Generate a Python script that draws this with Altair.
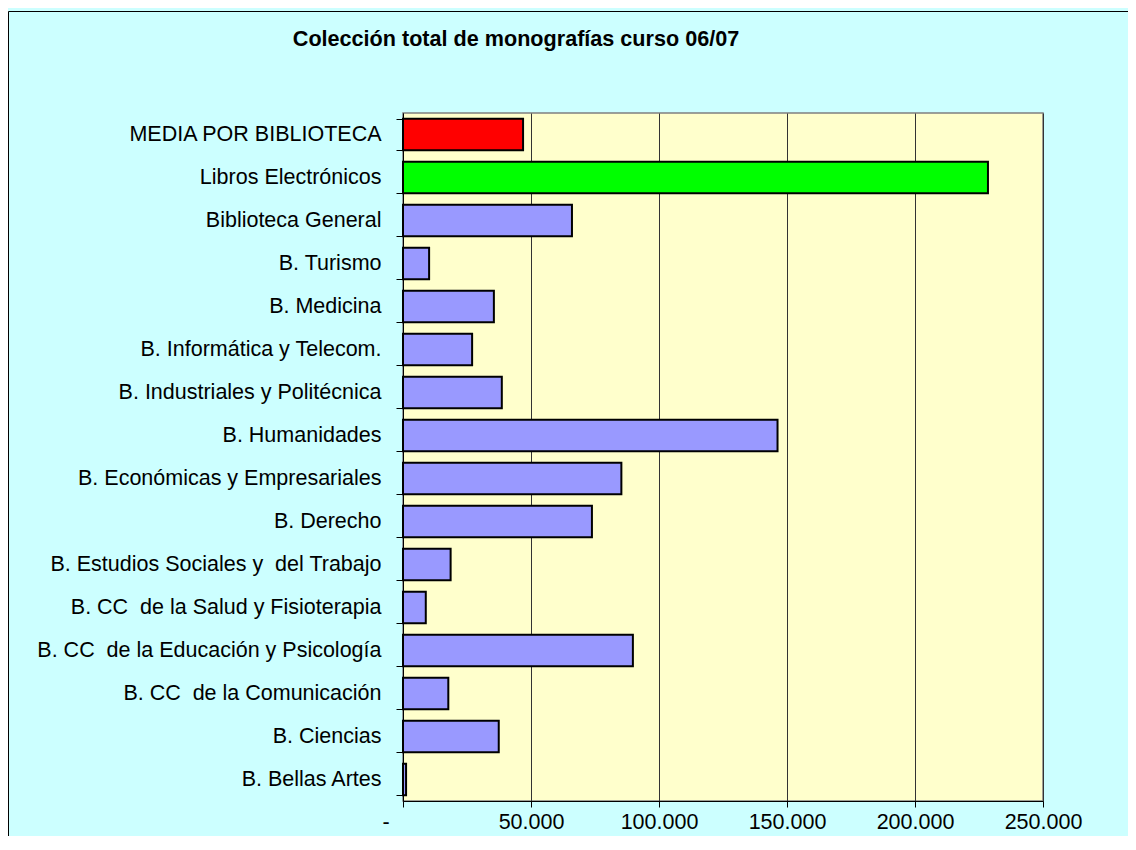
import altair as alt
import pandas as pd

categories = [
    "MEDIA POR BIBLIOTECA",
    "Libros Electrónicos",
    "Biblioteca General",
    "B. Turismo",
    "B. Medicina",
    "B. Informática y Telecom.",
    "B. Industriales y Politécnica",
    "B. Humanidades",
    "B. Económicas y Empresariales",
    "B. Derecho",
    "B. Estudios Sociales y\u00a0 del Trabajo",
    "B. CC\u00a0 de la Salud y Fisioterapia",
    "B. CC\u00a0 de la Educación y Psicología",
    "B. CC\u00a0 de la Comunicación",
    "B. Ciencias",
    "B. Bellas Artes",
]
values = [46900, 228500, 66000, 10200, 35500, 27000, 38600, 146300,
          85300, 73800, 18600, 8900, 89800, 17700, 37400, 1200]
bar_colors = ["#FF0000", "#00FF00"] + ["#9999FF"] * 14
x_ticks = [0, 50000, 100000, 150000, 200000, 250000]

df = pd.DataFrame({"cat": categories, "val": values, "col": bar_colors})
one = pd.DataFrame({"a": [0]})

FONT = "Liberation Sans"

bars = alt.Chart(df).mark_bar(stroke="black", strokeWidth=2).encode(
    y=alt.Y("cat:N", sort=None, title=None,
            scale=alt.Scale(paddingInner=0.27, paddingOuter=0.135),
            axis=alt.Axis(labelFont=FONT, labelFontSize=21.5, labelColor="black",
                          labelPadding=15, labelLimit=420, tickSize=7,
                          tickColor="black", domainColor="black",
                          tickBand="extent", grid=False)),
    x=alt.X("val:Q", title=None,
            scale=alt.Scale(domain=[0, 250000], nice=False, zero=True),
            axis=alt.Axis(values=x_ticks, labelFont=FONT, labelFontSize=21.5,
                          labelColor="black", labelPadding=4, tickSize=6,
                          labelFlush=False, labelOverlap=False,
                          labelOffset=alt.condition("datum.value == 0",
                                                    alt.value(-17.5), alt.value(0)),
                          tickColor="black", domainColor="black",
                          grid=True, gridColor="#333333", gridWidth=1,
                          labelExpr="datum.value == 0 ? '-' : replace(format(datum.value, ','), ',', '.')")),
    color=alt.Color("col:N", scale=None, legend=None),
)

border_v = alt.Chart(one).mark_rule(color="black", strokeWidth=1).encode(
    x=alt.value(-394.5), y=alt.value(-101.5), y2=alt.value(900))
border_h = alt.Chart(one).mark_rule(color="black", strokeWidth=1).encode(
    x=alt.value(-394.5), x2=alt.value(900), y=alt.value(-101.5))

chart = alt.layer(bars, border_v, border_h).properties(
    width=640, height=688,
    title=alt.TitleParams("Colección total de monografías curso 06/07",
                          font=FONT, fontSize=21.6, fontWeight="bold",
                          color="black", anchor="middle", frame="group",
                          dx=-207, offset=-40),
    padding={"left": 395, "top": 105, "right": 85, "bottom": 35},
    autosize=alt.AutoSizeParams(type="none"),
    background="#CCFFFF",
).configure_view(
    fill="#FFFFCC", stroke="#808080", strokeWidth=1.5
)

chart.save("out.html", embed_options={"renderer": "svg", "actions": False})
